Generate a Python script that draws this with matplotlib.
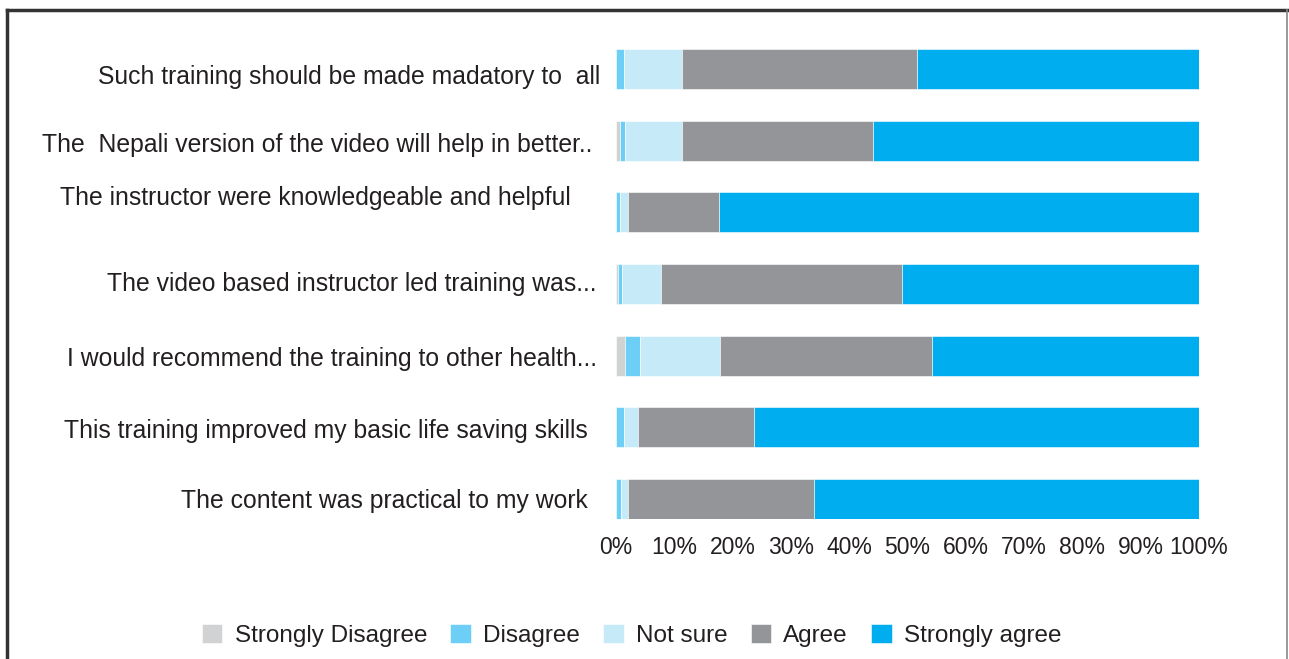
import numpy as np
import matplotlib
matplotlib.use("Agg")
import matplotlib.pyplot as plt
import matplotlib.transforms as mtransforms
from matplotlib.lines import Line2D

plt.rcParams['font.family'] = ['Liberation Sans', 'DejaVu Sans']

# statements, top to bottom
statements = [
    "Such training should be made madatory to  all",
    "The  Nepali version of the video will help in better..",
    "The instructor were knowledgeable and helpful",
    "The video based instructor led training was...",
    "I would recommend the training to other health...",
    "This training improved my basic life saving skills",
    "The content was practical to my work",
]

# percentages per response category
strongly_disagree = [0.0, 0.7, 0.0, 0.3, 1.5, 0.0, 0.0]
disagree = [1.4, 0.9, 0.7, 0.7, 2.7, 1.4, 0.9]
not_sure = [9.9, 9.8, 1.4, 6.7, 13.6, 2.4, 1.2]
agree = [40.3, 32.6, 15.6, 41.3, 36.4, 19.9, 31.9]
strongly_agree = [48.4, 56.0, 82.3, 51.0, 45.8, 76.3, 66.0]

categories = ["Strongly Disagree", "Disagree", "Not sure", "Agree", "Strongly agree"]
colors = ["#d1d2d4", "#6dcff6", "#c7eaf9", "#939598", "#00aeef"]
series = [strongly_disagree, disagree, not_sure, agree, strongly_agree]

# small hand-placement shifts of the labels in the original (pixels, x right / y up)
label_shift = [(0, -5), (-8, -2), (-30, 17), (-4, 2), (-4, -1), (-13, -1), (-13, 0)]

fig = plt.figure(figsize=(12.89, 6.59), dpi=100)
ax = fig.add_axes([616 / 1289, 1 - 519 / 659, 583 / 1289, 470 / 659])

y = np.arange(len(statements))
left = np.zeros(len(statements))
handles = []
for name, vals, c in zip(categories, series, colors):
    vals = np.array(vals)
    b = ax.barh(y, vals, left=left, height=0.56, color=c, edgecolor="white",
                linewidth=0.4, label=name)
    handles.append(b)
    left += vals

ax.set_ylim(len(statements) - 1 + 0.28, -0.28)
ax.set_xlim(0, 100)
ax.set_xticks(np.arange(0, 101, 10))
ax.set_xticklabels([f"{v}%" for v in range(0, 101, 10)], fontsize=16.5, color="#231f20")
ax.set_yticks(y)
ax.set_yticklabels(statements, fontsize=17.8, color="#231f20")
ax.tick_params(axis="both", length=0)
ax.tick_params(axis="x", pad=12)
ax.tick_params(axis="y", pad=11)
for s in ax.spines.values():
    s.set_visible(False)

for lab, (dx, dy) in zip(ax.get_yticklabels(), label_shift):
    off = mtransforms.ScaledTranslation(dx / 100, dy / 100, fig.dpi_scale_trans)
    lab.set_transform(lab.get_transform() + off)

leg = fig.legend(handles=handles, labels=categories, loc="lower center",
                 bbox_to_anchor=(0.49, -0.015), ncol=5, frameon=False, fontsize=17.5,
                 handlelength=0.85, handleheight=0.85, columnspacing=0.95,
                 handletextpad=0.5, labelcolor="#231f20")

# outer frame
fig.add_artist(Line2D([7 / 1289, 7 / 1289], [0, 1 - 10 / 659], color="#333333", lw=2.5))
fig.add_artist(Line2D([7 / 1289, 1287 / 1289], [1 - 10 / 659, 1 - 10 / 659], color="#333333", lw=2.5))
fig.add_artist(Line2D([1287 / 1289, 1287 / 1289], [0, 1 - 10 / 659], color="#888888", lw=1.2))

fig.savefig("out.png", dpi=100)
